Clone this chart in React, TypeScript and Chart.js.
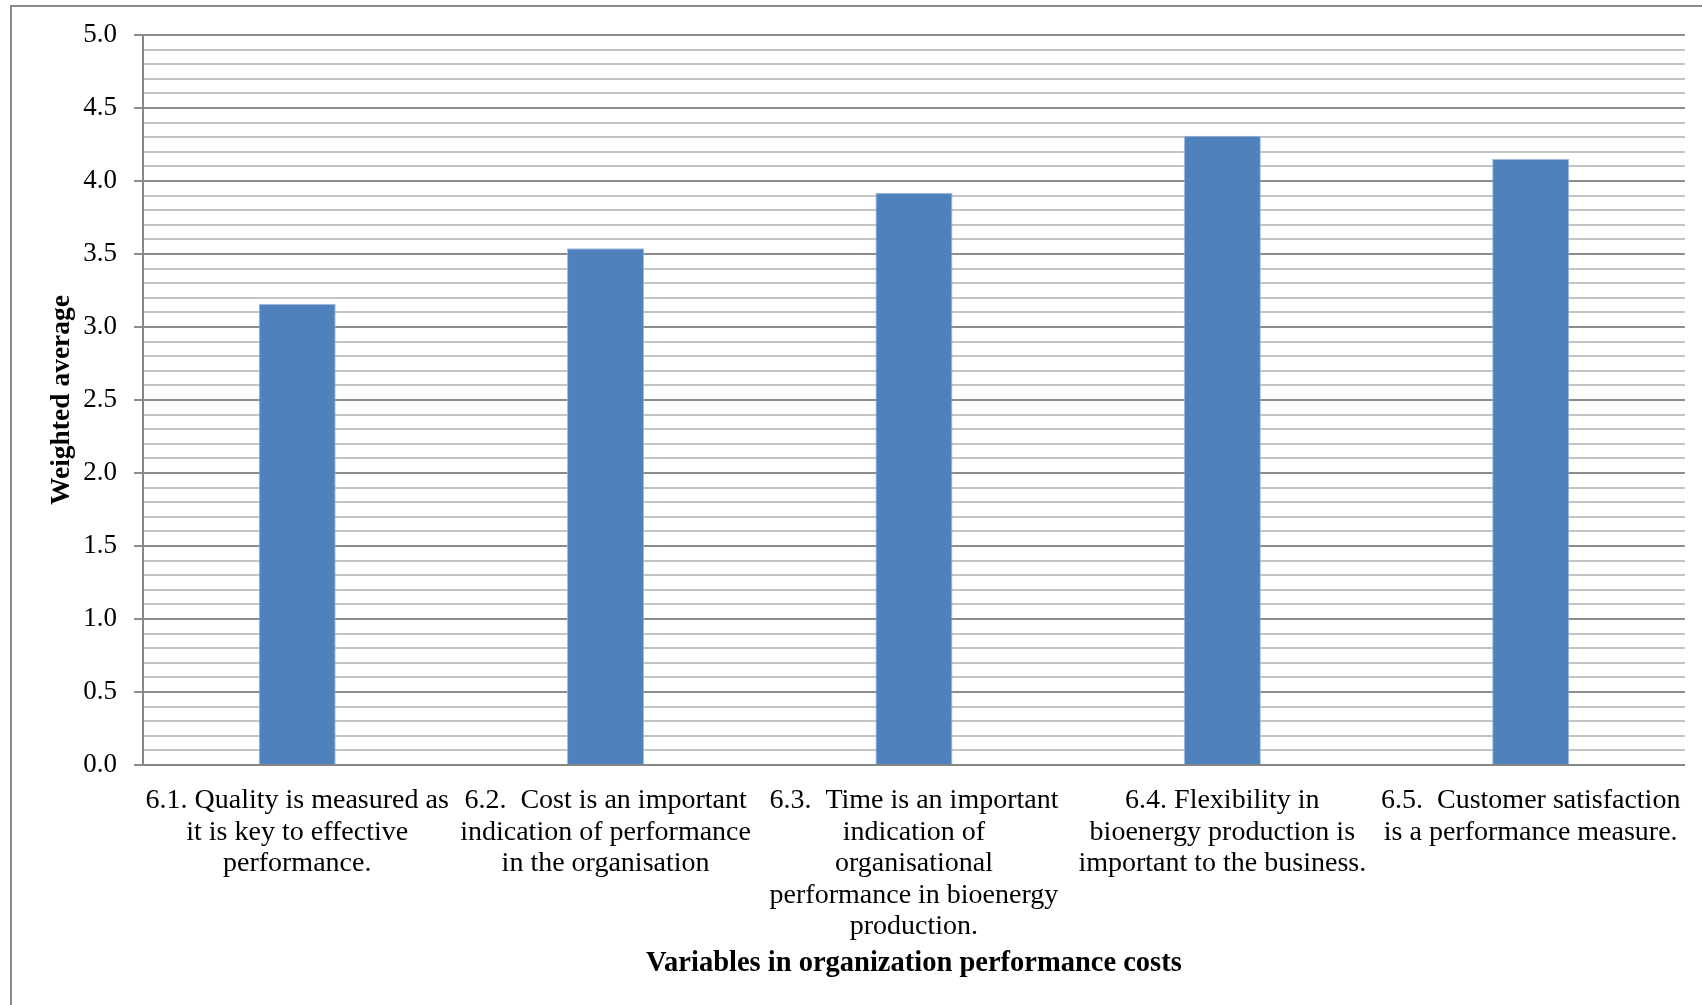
import React, { useEffect, useRef } from "react";
import { Chart, registerables } from "chart.js";

Chart.register(...registerables);

const categories: string[][] = [
  ["6.1. Quality is measured as", "it is key to effective", "performance."],
  ["6.2.  Cost is an important", "indication of performance", "in the organisation"],
  ["6.3.  Time is an important", "indication of", "organisational", "performance in bioenergy", "production."],
  ["6.4. Flexibility in", "bioenergy production is", "important to the business."],
  ["6.5.  Customer satisfaction", "is a performance measure."],
];

const weightedAverages: number[] = [3.16, 3.54, 3.92, 4.31, 4.15];

const yMin = 0;
const yMax = 5;
const minorStep = 0.1;
const majorStep = 0.5;

const xTitle = "Variables in organization performance costs";
const yTitle = "Weighted average";

const FONT = "'Liberation Serif', 'Times New Roman', serif";
const W = 1702;
const H = 1005;

const isMajor = (v: number) => Math.abs(v / majorStep - Math.round(v / majorStep)) < 1e-6;

// Frame lines along the left and top edges of the figure
const framePlugin = {
  id: "frame",
  beforeDraw(chart: Chart) {
    const ctx = chart.ctx;
    ctx.save();
    ctx.strokeStyle = "#8a8a8a";
    ctx.lineWidth = 2;
    ctx.beginPath();
    ctx.moveTo(11, H);
    ctx.lineTo(11, 6);
    ctx.lineTo(W, 6);
    ctx.stroke();
    ctx.restore();
  },
};

export default function App() {
  const ref = useRef<HTMLCanvasElement | null>(null);

  useEffect(() => {
    if (!ref.current) return;
    const chart = new Chart(ref.current, {
      type: "bar",
      data: {
        labels: categories,
        datasets: [
          {
            data: weightedAverages,
            backgroundColor: "#4f81bd",
            borderColor: "rgba(150,180,220,0.9)",
            borderWidth: 1,
            barPercentage: 0.25,
            categoryPercentage: 1,
          },
        ],
      },
      options: {
        animation: false,
        responsive: false,
        devicePixelRatio: 1,
        layout: { padding: { top: 35, right: 16, left: 0, bottom: 0 } },
        plugins: {
          legend: { display: false },
          tooltip: { enabled: false },
        },
        scales: {
          x: {
            grid: { display: false, drawTicks: false },
            border: { display: true, color: "#868686", width: 2 },
            ticks: {
              color: "#000",
              padding: 20,
              maxRotation: 0,
              autoSkip: false,
              font: { family: FONT, size: 28, lineHeight: 1.125 },
            },
            title: {
              display: true,
              text: xTitle,
              color: "#000",
              font: { family: FONT, size: 28.5, weight: "bold", lineHeight: 1.2 },
              padding: { top: 0, bottom: 24 },
            },
            afterFit(scale: any) {
              scale.height = H - 765;
            },
          },
          y: {
            min: yMin,
            max: yMax,
            grid: {
              color: (c: any) => (isMajor(c.tick.value) ? "#8c8c8c" : "#c4c4c4"),
              tickColor: (c: any) => (isMajor(c.tick.value) ? "#8c8c8c" : "rgba(0,0,0,0)"),
              lineWidth: 2,
              tickLength: 9,
            },
            border: { display: true, color: "#868686", width: 2 },
            ticks: {
              stepSize: minorStep,
              autoSkip: false,
              color: "#000",
              padding: 17,
              font: { family: FONT, size: 27 },
              callback: (v: any) => (isMajor(Number(v)) ? Number(v).toFixed(1) : ""),
            },
            title: {
              display: true,
              text: yTitle,
              color: "#000",
              font: { family: FONT, size: 27.5, weight: "bold", lineHeight: 1.2 },
              padding: { top: 45, bottom: 0 },
            },
            afterFit(scale: any) {
              scale.width = 143;
            },
          },
        },
      },
      plugins: [framePlugin],
    });
    return () => chart.destroy();
  }, []);

  return (
    <div style={{ position: "fixed", left: 0, top: 0, width: W, height: H, background: "#fff" }}>
      <canvas ref={ref} width={W} height={H} style={{ width: W, height: H, display: "block" }} />
    </div>
  );
}
